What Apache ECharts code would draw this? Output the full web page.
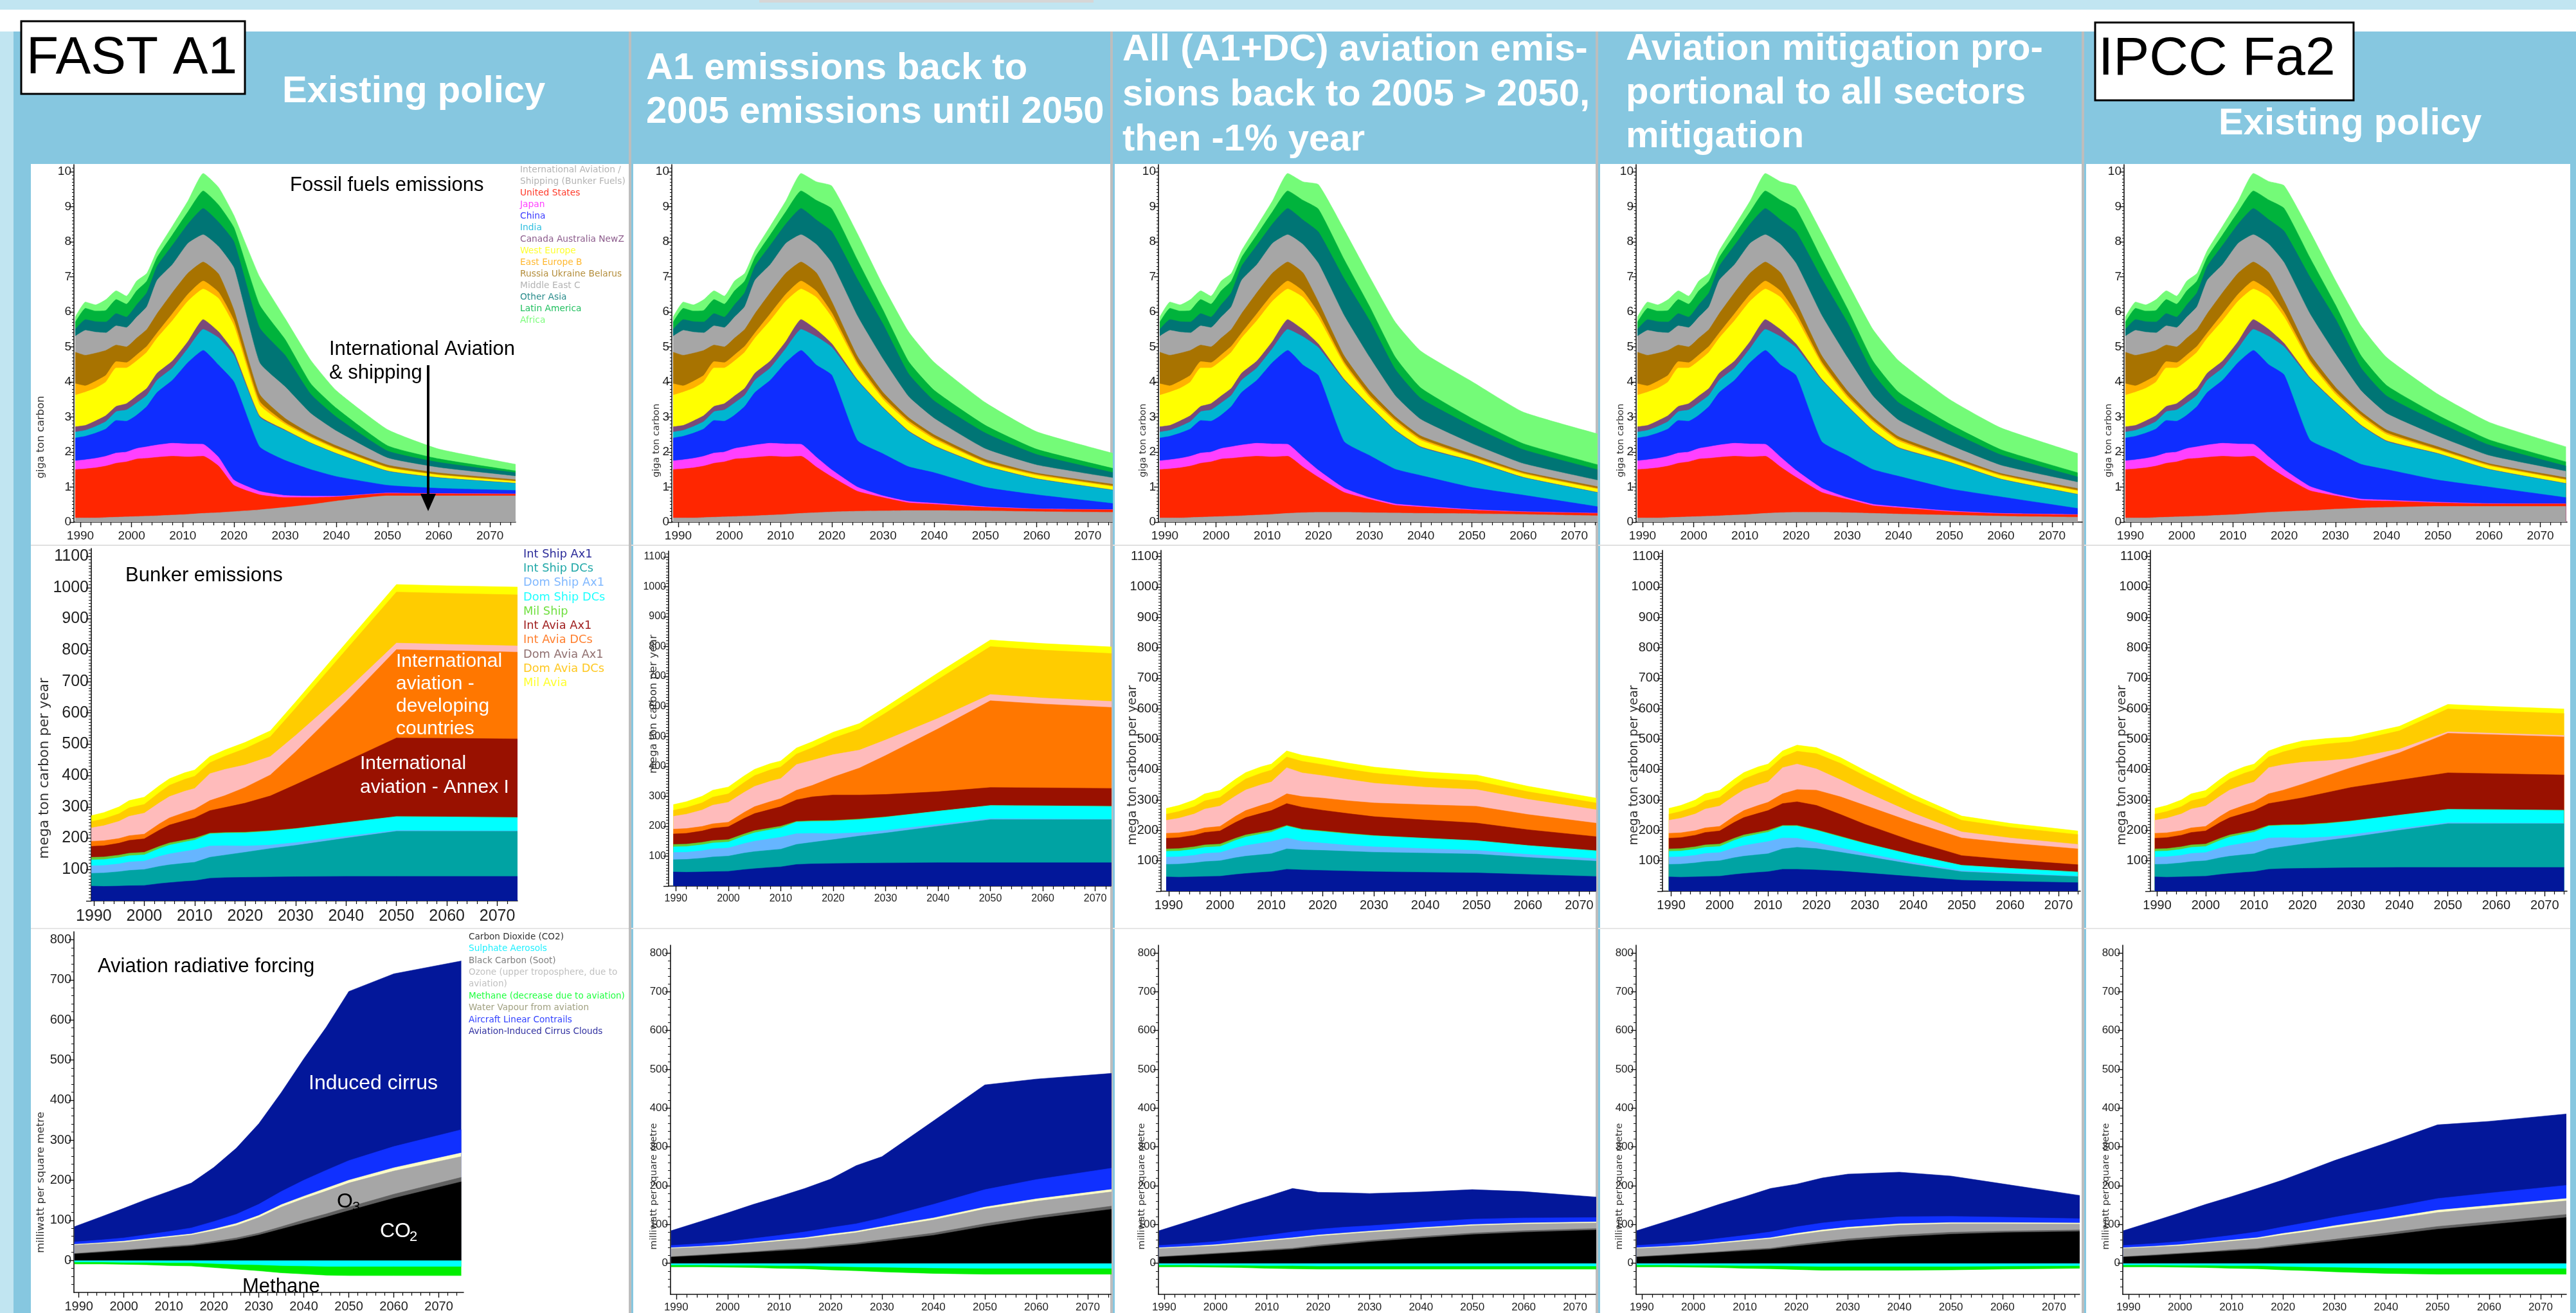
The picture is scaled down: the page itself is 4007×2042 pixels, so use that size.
<!DOCTYPE html>
<html><head><meta charset="utf-8"><title>FAST A1 aviation scenarios</title>
<script src="https://cdn.jsdelivr.net/npm/echarts@6.0.0/dist/echarts.min.js"></script>
<style>
html,body{margin:0;padding:0;width:4007px;height:2042px;overflow:hidden;background:#86c7e0;}
.bg{position:absolute;}
#chart{position:absolute;left:0;top:0;width:4007px;height:2042px;}
</style></head><body>
<div class="bg" style="left:0;top:0;width:4007px;height:15px;background:#c1e5f1"></div>
<div class="bg" style="left:1181px;top:0;width:520px;height:4px;background:#d6d6d6"></div>
<div class="bg" style="left:0;top:15px;width:4007px;height:34px;background:#fff"></div>
<div class="bg" style="left:0;top:49px;width:21px;height:1993px;background:#c1e5f1"></div>
<div class="bg" style="left:48px;top:255px;width:930px;height:1787px;background:#fff"></div>
<div class="bg" style="left:985px;top:255px;width:742px;height:1787px;background:#fff"></div>
<div class="bg" style="left:1734px;top:255px;width:748px;height:1787px;background:#fff"></div>
<div class="bg" style="left:2489px;top:255px;width:749px;height:1787px;background:#fff"></div>
<div class="bg" style="left:3245px;top:255px;width:753px;height:1787px;background:#fff"></div>
<div class="bg" style="left:48px;top:847px;width:3950px;height:2px;background:#e0e0e0"></div>
<div class="bg" style="left:48px;top:1443px;width:3950px;height:2px;background:#e6e6e6"></div>
<div class="bg" style="left:978px;top:49px;width:4px;height:1993px;background:#bdbdbd"></div>
<div class="bg" style="left:1727px;top:49px;width:4px;height:1993px;background:#bdbdbd"></div>
<div class="bg" style="left:2482px;top:49px;width:4px;height:1993px;background:#bdbdbd"></div>
<div class="bg" style="left:3238px;top:49px;width:4px;height:1993px;background:#bdbdbd"></div>
<div id="chart"></div>
<script>
// ---------- tick labels ----------
const X_TICKS = [1990, 2000, 2010, 2020, 2030, 2040, 2050, 2060, 2070];
const FF_Y_TICKS = [0, 1, 2, 3, 4, 5, 6, 7, 8, 9, 10];
const BK_Y_TICKS = [0, 100, 200, 300, 400, 500, 600, 700, 800, 900, 1000, 1100];
const BK_Y_LABELS = [100, 200, 300, 400, 500, 600, 700, 800, 900, 1000, 1100];
const RF_Y_TICKS = [0, 100, 200, 300, 400, 500, 600, 700, 800];

// ---------- column headers ----------
const HEAD_1 = 'Existing policy';
const HEAD_2 = ['A1 emissions back to', '2005 emissions until 2050'];
const HEAD_3 = ['All (A1+DC) aviation emis-', 'sions back to 2005 > 2050,', 'then -1% year'];
const HEAD_4 = ['Aviation mitigation pro-', 'portional to all sectors', 'mitigation'];
const HEAD_5 = 'Existing policy';

// ---------- fossil fuel emissions (giga ton carbon), layers bottom -> top ----------
const FF_NAMES = ['International Aviation /\nShipping (Bunker Fuels)', 'United States', 'Japan', 'China', 'India',
  'Canada Australia NewZ', 'West Europe', 'East Europe B', 'Russia Ukraine Belarus', 'Middle East C',
  'Other Asia', 'Latin America', 'Africa'];
const FF_COLORS = ['#a6a6a6', '#ff2600', '#ff40ff', '#0f2dff', '#00b5d0', '#7a4a7a', '#ffff00', '#ffb200',
  '#a87300', '#a6a6a6', '#007575', '#00b33c', '#74fb78'];
const FF_LEGEND_COLORS = ['#b4b4b4', '#ff3a2a', '#ff40ff', '#3c3cff', '#30bfe0', '#8c5c8c', '#ffff30', '#ffb830',
  '#b48e3c', '#b4b4b4', '#2a8c8c', '#22c060', '#7cfc7c'];
const FF_YEARS_H = [1989, 1991, 1993, 1995, 1997, 1999, 2001, 2003, 2005, 2008, 2011, 2014];
const FF_YEARS_P = [2017, 2020, 2025, 2030, 2035, 2040, 2050, 2060, 2075];
const FF_HIST = [
  [0.12, 0.12, 0.12, 0.13, 0.14, 0.15, 0.16, 0.17, 0.18, 0.20, 0.22, 0.25],
  [1.38, 1.40, 1.43, 1.47, 1.54, 1.57, 1.64, 1.65, 1.67, 1.68, 1.64, 1.63],
  [0.25, 0.26, 0.27, 0.28, 0.29, 0.28, 0.30, 0.33, 0.35, 0.37, 0.37, 0.34],
  [0.65, 0.67, 0.72, 0.78, 0.93, 0.88, 0.95, 1.15, 1.50, 1.80, 2.32, 2.68],
  [0.17, 0.17, 0.19, 0.21, 0.25, 0.32, 0.35, 0.32, 0.35, 0.35, 0.40, 0.60],
  [0.15, 0.14, 0.16, 0.17, 0.15, 0.18, 0.20, 0.20, 0.20, 0.20, 0.20, 0.28],
  [0.90, 0.95, 0.93, 0.96, 1.10, 1.02, 1.00, 1.03, 1.00, 1.15, 1.15, 0.87],
  [0.33, 0.18, 0.20, 0.19, 0.18, 0.15, 0.17, 0.17, 0.15, 0.20, 0.20, 0.23],
  [0.90, 0.87, 0.80, 0.71, 0.47, 0.45, 0.48, 0.48, 0.55, 0.60, 0.60, 0.54],
  [0.45, 0.71, 0.60, 0.50, 0.55, 0.55, 0.60, 0.65, 0.95, 0.80, 0.85, 0.78],
  [0.20, 0.31, 0.30, 0.31, 0.35, 0.30, 0.35, 0.40, 0.40, 0.55, 0.55, 0.75],
  [0.20, 0.32, 0.30, 0.33, 0.40, 0.37, 0.40, 0.33, 0.25, 0.30, 0.35, 0.50],
  [0.15, 0.18, 0.18, 0.31, 0.25, 0.23, 0.28, 0.22, 0.20, 0.25, 0.31, 0.50]];
const FF_C1 = [
  [0.27, 0.30, 0.35, 0.42, 0.50, 0.60, 0.75, 0.75, 0.75],
  [1.33, 0.75, 0.43, 0.28, 0.20, 0.12, 0.07, 0.06, 0.05],
  [0.25, 0.15, 0.10, 0.06, 0.04, 0.02, 0.01, 0.005, 0.005],
  [2.63, 2.80, 1.27, 1.00, 0.76, 0.56, 0.22, 0.15, 0.10],
  [0.78, 0.76, 0.85, 0.85, 0.75, 0.65, 0.40, 0.30, 0.20],
  [0.17, 0.09, 0.03, 0.02, 0.01, 0.01, 0.01, 0.005, 0.005],
  [0.95, 0.75, 0.32, 0.16, 0.14, 0.12, 0.09, 0.07, 0.05],
  [0.18, 0.15, 0.10, 0.05, 0.04, 0.03, 0.02, 0.015, 0.01],
  [0.52, 0.30, 0.20, 0.12, 0.08, 0.07, 0.06, 0.05, 0.04],
  [0.78, 1.20, 0.90, 0.90, 0.58, 0.42, 0.20, 0.15, 0.10],
  [0.70, 0.75, 1.00, 0.90, 0.55, 0.40, 0.20, 0.15, 0.10],
  [0.49, 0.40, 0.65, 0.45, 0.30, 0.25, 0.15, 0.10, 0.05],
  [0.50, 0.35, 0.80, 0.60, 0.67, 0.50, 0.46, 0.28, 0.19]];
const FF_C2 = [
  [0.27, 0.29, 0.31, 0.32, 0.33, 0.33, 0.32, 0.30, 0.28],
  [1.30, 1.00, 0.57, 0.38, 0.22, 0.18, 0.10, 0.07, 0.07],
  [0.28, 0.20, 0.12, 0.05, 0.04, 0.03, 0.02, 0.01, 0.005],
  [2.63, 2.70, 1.33, 1.20, 0.99, 0.87, 0.55, 0.40, 0.175],
  [0.81, 0.80, 1.70, 1.30, 1.00, 0.75, 0.60, 0.45, 0.38],
  [0.20, 0.10, 0.03, 0.02, 0.02, 0.02, 0.01, 0.01, 0.005],
  [0.92, 0.75, 0.42, 0.23, 0.23, 0.18, 0.09, 0.09, 0.095],
  [0.18, 0.13, 0.07, 0.07, 0.06, 0.05, 0.03, 0.03, 0.02],
  [0.52, 0.32, 0.18, 0.13, 0.09, 0.08, 0.07, 0.04, 0.05],
  [0.81, 1.10, 1.15, 0.95, 0.60, 0.47, 0.30, 0.23, 0.18],
  [0.70, 0.90, 1.05, 1.00, 0.65, 0.50, 0.45, 0.30, 0.15],
  [0.56, 0.65, 0.55, 0.40, 0.35, 0.30, 0.22, 0.15, 0.12],
  [0.53, 0.65, 0.75, 0.70, 0.85, 0.80, 0.65, 0.50, 0.43]];
const FF_C3 = [
  [0.27, 0.28, 0.28, 0.27, 0.26, 0.25, 0.24, 0.22, 0.18],
  [1.30, 1.00, 0.57, 0.38, 0.22, 0.18, 0.10, 0.07, 0.07],
  [0.28, 0.20, 0.12, 0.05, 0.04, 0.03, 0.02, 0.01, 0.005],
  [2.63, 2.70, 1.33, 1.20, 0.99, 0.87, 0.63, 0.47, 0.175],
  [0.81, 0.80, 1.75, 1.40, 1.10, 0.80, 0.75, 0.50, 0.40],
  [0.20, 0.10, 0.03, 0.02, 0.02, 0.02, 0.01, 0.01, 0.005],
  [0.92, 0.75, 0.42, 0.23, 0.23, 0.18, 0.09, 0.09, 0.095],
  [0.18, 0.13, 0.07, 0.07, 0.06, 0.05, 0.03, 0.03, 0.02],
  [0.52, 0.32, 0.18, 0.13, 0.09, 0.08, 0.07, 0.04, 0.05],
  [0.81, 1.10, 1.15, 0.95, 0.60, 0.47, 0.30, 0.23, 0.18],
  [0.70, 0.90, 1.05, 1.05, 0.75, 0.60, 0.50, 0.40, 0.30],
  [0.56, 0.65, 0.55, 0.40, 0.35, 0.30, 0.22, 0.17, 0.14],
  [0.53, 0.70, 0.85, 0.85, 1.00, 1.05, 1.05, 0.90, 0.88]];
const FF_C4 = [
  [0.27, 0.28, 0.28, 0.27, 0.25, 0.23, 0.20, 0.17, 0.14],
  [1.30, 1.00, 0.57, 0.38, 0.22, 0.18, 0.10, 0.07, 0.07],
  [0.28, 0.20, 0.12, 0.05, 0.04, 0.03, 0.02, 0.01, 0.005],
  [2.63, 2.70, 1.33, 1.20, 0.99, 0.87, 0.63, 0.47, 0.175],
  [0.81, 0.80, 1.75, 1.40, 1.10, 0.80, 0.75, 0.50, 0.40],
  [0.20, 0.10, 0.03, 0.02, 0.02, 0.02, 0.01, 0.01, 0.005],
  [0.92, 0.75, 0.42, 0.23, 0.23, 0.18, 0.09, 0.09, 0.095],
  [0.18, 0.13, 0.07, 0.07, 0.06, 0.05, 0.03, 0.03, 0.02],
  [0.52, 0.32, 0.18, 0.13, 0.09, 0.08, 0.07, 0.04, 0.05],
  [0.81, 1.10, 1.15, 0.95, 0.60, 0.47, 0.30, 0.23, 0.18],
  [0.70, 0.90, 1.05, 1.00, 0.65, 0.50, 0.40, 0.30, 0.15],
  [0.56, 0.65, 0.55, 0.40, 0.35, 0.30, 0.20, 0.15, 0.12],
  [0.53, 0.65, 0.75, 0.75, 0.90, 0.90, 0.70, 0.62, 0.55]];
const FF_C5 = [
  [0.28, 0.30, 0.33, 0.37, 0.40, 0.42, 0.45, 0.45, 0.45],
  [1.30, 1.00, 0.57, 0.38, 0.22, 0.18, 0.10, 0.07, 0.07],
  [0.28, 0.20, 0.12, 0.05, 0.04, 0.03, 0.02, 0.01, 0.005],
  [2.63, 2.70, 1.33, 1.20, 0.99, 0.87, 0.63, 0.47, 0.175],
  [0.81, 0.80, 1.75, 1.40, 1.10, 0.80, 0.75, 0.50, 0.40],
  [0.20, 0.10, 0.03, 0.02, 0.02, 0.02, 0.01, 0.01, 0.005],
  [0.92, 0.75, 0.42, 0.23, 0.23, 0.18, 0.09, 0.09, 0.095],
  [0.18, 0.13, 0.07, 0.07, 0.06, 0.05, 0.03, 0.03, 0.02],
  [0.52, 0.32, 0.18, 0.13, 0.09, 0.08, 0.07, 0.04, 0.05],
  [0.81, 1.10, 1.15, 0.95, 0.60, 0.47, 0.30, 0.23, 0.18],
  [0.70, 0.90, 1.05, 1.00, 0.65, 0.50, 0.40, 0.30, 0.15],
  [0.56, 0.65, 0.55, 0.40, 0.35, 0.30, 0.20, 0.15, 0.12],
  [0.53, 0.65, 0.75, 0.70, 0.85, 0.80, 0.60, 0.50, 0.43]];

// ---------- bunker emissions (mega ton carbon per year) ----------
const BK_NAMES = ['Int Ship Ax1', 'Int Ship DCs', 'Dom Ship Ax1', 'Dom Ship DCs', 'Mil Ship', 'Int Avia Ax1',
  'Int Avia DCs', 'Dom Avia Ax1', 'Dom Avia DCs', 'Mil Avia'];
const BK_COLORS = ['#02179a', '#00a3a3', '#66b5ff', '#00ffff', '#66cc33', '#991100', '#ff7700', '#ffbbbb', '#ffcc00', '#ffff00'];
const BK_LEGEND_COLORS = ['#2b2b99', '#20a8a8', '#80b8ff', '#20ffff', '#70e040', '#a02020', '#ff8030', '#907070', '#ffc820', '#ffff30'];
const BK_YEARS_H = [1989.5, 1992, 1995, 1997, 2000, 2003, 2005, 2008, 2010, 2013];
const BK_YEARS_P = [2016, 2020, 2025, 2030, 2040, 2050, 2060, 2074];
const BK_HIST = [
  [47, 46, 47, 48, 49, 55, 58, 62, 64, 72],
  [41, 43, 46, 49, 51, 55, 57, 58, 59, 67],
  [24, 24, 25, 27, 27, 32, 35, 38, 40, 36],
  [19, 19, 20, 20, 20, 25, 28, 30, 31, 39],
  [8, 8, 8, 8, 8, 7, 7, 6, 6, 2],
  [35, 36, 38, 41, 43, 52, 57, 62, 65, 72],
  [16, 16, 15, 15, 15, 20, 23, 26, 27, 32],
  [43, 48, 55, 62, 67, 67, 68, 68, 67, 86],
  [20, 22, 24, 27, 28, 33, 36, 38, 39, 35],
  [19, 20, 22, 23, 23, 22, 21, 21, 20, 20]];
const BK_C1 = [
  [74, 75, 76, 77, 78, 78, 78, 78],
  [72, 80, 91, 100, 122, 144, 144, 144],
  [30, 20, 11, 9, 6, 3, 2, 1],
  [40, 42, 44, 44, 44, 44, 44, 43],
  [2, 2, 2, 1, 0, 0, 0, 0],
  [80, 93, 111, 140, 195, 251, 251, 251],
  [38, 50, 67, 105, 190, 282, 280, 277],
  [84, 72, 59, 52, 35, 21, 20, 20],
  [42, 52, 63, 87, 131, 163, 163, 163],
  [20, 20, 19, 20, 22, 24, 24, 25]];
const BK_C2 = [
  [74, 75, 76, 77, 78, 78, 78, 78],
  [72, 80, 91, 100, 122, 144, 144, 144],
  [30, 20, 11, 9, 6, 3, 2, 1],
  [40, 42, 44, 44, 44, 44, 44, 43],
  [2, 2, 2, 1, 0, 0, 0, 0],
  [80, 85, 80, 75, 65, 60, 60, 60],
  [38, 60, 90, 130, 210, 290, 280, 270],
  [84, 75, 60, 52, 35, 21, 20, 20],
  [42, 55, 70, 90, 130, 160, 160, 160],
  [20, 20, 19, 20, 22, 22, 22, 22]];
const BK_C3 = [
  [70, 68, 66, 64, 62, 60, 55, 48],
  [66, 66, 65, 64, 63, 62, 56, 50],
  [28, 24, 20, 18, 15, 12, 10, 8],
  [38, 38, 37, 36, 34, 32, 29, 26],
  [2, 2, 2, 1, 0, 0, 0, 0],
  [72, 68, 65, 62, 60, 58, 52, 46],
  [35, 40, 42, 45, 50, 55, 50, 44],
  [78, 74, 70, 65, 58, 55, 50, 44],
  [38, 36, 34, 33, 30, 28, 25, 22],
  [20, 20, 20, 20, 20, 20, 18, 16]];
const BK_C4 = [
  [72, 70, 66, 60, 48, 36, 32, 28],
  [72, 70, 62, 55, 40, 28, 25, 20],
  [30, 20, 14, 10, 6, 3, 2, 1],
  [40, 40, 36, 32, 25, 18, 16, 14],
  [2, 2, 2, 1, 0, 0, 0, 0],
  [78, 80, 72, 62, 45, 32, 28, 24],
  [40, 50, 58, 62, 62, 58, 55, 52],
  [84, 70, 56, 45, 30, 20, 17, 15],
  [42, 50, 54, 52, 45, 38, 35, 32],
  [20, 20, 19, 18, 16, 14, 13, 12]];
const BK_C5 = [
  [74, 75, 76, 77, 78, 78, 78, 78],
  [72, 80, 91, 100, 122, 144, 144, 144],
  [30, 20, 11, 9, 6, 3, 2, 1],
  [40, 42, 44, 44, 44, 44, 44, 43],
  [2, 2, 2, 1, 0, 0, 0, 0],
  [78, 88, 100, 110, 115, 120, 118, 116],
  [36, 45, 55, 65, 90, 130, 128, 125],
  [84, 72, 50, 30, 12, 5, 5, 5],
  [42, 50, 55, 55, 60, 75, 73, 72],
  [20, 20, 18, 16, 15, 15, 15, 15]];

// ---------- aviation radiative forcing (milliwatt per square metre) ----------
const RF_NAMES = ['Carbon Dioxide (CO2)', 'Sulphate Aerosols', 'Black Carbon (Soot)',
  'Ozone (upper troposphere, due to\naviation)', 'Methane (decrease due to aviation)', 'Water Vapour from aviation',
  'Aircraft Linear Contrails', 'Aviation-Induced Cirrus Clouds'];
const RF_COLORS = ['#000000', '#00ffff', '#606060', '#a6a6a6', '#00ee00', '#ffffc8', '#1030ff', '#03179a'];
const RF_LEGEND_COLORS = ['#333333', '#20f0ff', '#808080', '#c0c0c0', '#20ff40', '#a0a080', '#3040ff', '#3030a0'];
const RF_YEARS_H = [1989, 1995, 2000, 2005, 2010, 2015];
const RF_YEARS_P1 = [2020, 2025, 2030, 2035, 2040, 2045, 2050, 2060, 2075];
const RF_YEARS_P = [2020, 2025, 2030, 2040, 2050, 2060, 2075];
const RF_HIST = [
  [16, 20, 24, 28, 32, 36],
  [-4, -4, -5, -5, -6, -6],
  [1, 2, 2, 2, 3, 3],
  [21, 20, 19, 21, 22, 24],
  [-5, -5, -5, -6, -7, -8],
  [2, 2, 3, 3, 3, 3],
  [6, 7, 8, 10, 12, 15],
  [38, 58, 74, 88, 100, 112]];
const RF_C1 = [
  [43, 51, 63, 78, 93, 108, 124, 155, 196],
  [-8, -10, -11, -13, -14, -15, -15, -15, -15],
  [4, 5, 5, 6, 8, 8, 9, 10, 11],
  [27, 31, 39, 49, 53, 57, 60, 58, 52],
  [-10, -12, -15, -18, -20, -22, -23, -23, -23],
  [4, 5, 5, 6, 6, 7, 7, 8, 9],
  [19, 23, 28, 33, 40, 45, 49, 53, 58],
  [135, 165, 201, 247, 303, 357, 422, 431, 421]];
const RF_C2 = [
  [42, 48, 56, 72, 95, 115, 140],
  [-8, -9, -10, -12, -13, -13, -13],
  [4, 4, 5, 6, 7, 7, 8],
  [25, 27, 30, 34, 38, 38, 37],
  [-9, -10, -12, -14, -15, -15, -15],
  [4, 4, 4, 5, 5, 6, 6],
  [17, 19, 22, 35, 45, 50, 55],
  [125, 150, 158, 215, 270, 259, 244]];
const RF_C3 = [
  [43, 49, 55, 65, 74, 80, 86],
  [-7, -7, -7, -7, -7, -7, -7],
  [4, 4, 4, 4, 4, 4, 4],
  [23, 22, 21, 20, 19, 17, 14],
  [-8, -8, -8, -8, -8, -8, -8],
  [3, 3, 3, 3, 3, 3, 3],
  [15, 15, 14, 14, 14, 13, 11],
  [95, 89, 83, 78, 76, 68, 52]];
const RF_C4 = [
  [44, 51, 58, 68, 75, 79, 82],
  [-7, -8, -8, -8, -8, -7, -6],
  [4, 5, 5, 5, 5, 4, 4],
  [25, 26, 26, 25, 22, 19, 15],
  [-9, -10, -10, -10, -9, -8, -7],
  [4, 4, 4, 4, 3, 3, 3],
  [17, 18, 18, 18, 16, 14, 11],
  [110, 116, 119, 115, 104, 86, 60]];
const RF_C5 = [
  [43, 50, 57, 72, 88, 100, 118],
  [-8, -9, -10, -12, -13, -13, -13],
  [4, 4, 5, 6, 7, 7, 8],
  [26, 28, 30, 33, 36, 36, 35],
  [-9, -10, -12, -14, -15, -15, -15],
  [4, 4, 5, 5, 6, 6, 6],
  [17, 20, 22, 26, 30, 32, 34],
  [121, 134, 146, 168, 190, 185, 184]];

// ---------- layout (pixel geometry of each panel) ----------
const FF_GEO = [
  {left: 115, top: 256, width: 687, height: 556, xmin: 1988.75, xmax: 2075},
  {left: 1045, top: 256, width: 685, height: 556, xmin: 1988.75, xmax: 2074.75},
  {left: 1802, top: 256, width: 682, height: 556, xmin: 1988.75, xmax: 2074.4},
  {left: 2545, top: 256, width: 694, height: 556, xmin: 1988.75, xmax: 2075.9},
  {left: 3304, top: 256, width: 689, height: 556, xmin: 1988.75, xmax: 2075.2}];
const BK_GEO = [
  {left: 142, top: 853, width: 663, height: 548, xmin: 1989.5, xmax: 2074, ymax: 1125, fs: 25},
  {left: 1040, top: 857, width: 688, height: 521, xmin: 1988.6, xmax: 2073, ymax: 1119, fs: 16},
  {left: 1806, top: 856, width: 676, height: 530, xmin: 1988.5, xmax: 2073.2, ymax: 1120, fs: 20},
  {left: 2586, top: 856, width: 650, height: 530, xmin: 1988.2, xmax: 2074.5, ymax: 1120, fs: 20},
  {left: 3345, top: 856, width: 648, height: 530, xmin: 1988.6, xmax: 2074.6, ymax: 1120, fs: 20}];
const RF_GEO = [
  {left: 115, top: 1449, width: 606, height: 572, xmin: 1988.9, xmax: 2075.5, fs: 20},
  {left: 1043, top: 1470, width: 685, height: 549, xmin: 1988.9, xmax: 2074.5, fs: 17},
  {left: 1802, top: 1470, width: 680, height: 549, xmin: 1988.9, xmax: 2074, fs: 17},
  {left: 2545, top: 1470, width: 690, height: 549, xmin: 1988.9, xmax: 2075, fs: 17},
  {left: 3302, top: 1470, width: 690, height: 549, xmin: 1988.9, xmax: 2075, fs: 17}];

const grids = [], xAxis = [], yAxis = [], series = [];
const AX = '#111', LBL = '#222', NUMF = 'Liberation Sans, Arial, sans-serif';

function xLabel(v) {
  const r = Math.round(v);
  return (Math.abs(v - r) < 1e-6 && r % 10 === 0) ? String(r) : '';
}

function addPanel(kind, g, names, colors, yearsH, hist, yearsP, proj) {
  const i = grids.length;
  grids.push({left: g.left, top: g.top, width: g.width, height: g.height, containLabel: false});
  const fs = g.fs || 19;
  xAxis.push({
    type: 'value', gridIndex: i, min: g.xmin, max: g.xmax, splitNumber: 8, minInterval: 10, maxInterval: 10,
    axisLine: {onZero: false, lineStyle: {color: AX, width: 1.6}},
    axisTick: {show: true, length: 8, customValues: X_TICKS, lineStyle: {color: AX, width: 1.4}},
    minorTick: {show: true, splitNumber: 5, length: 5, lineStyle: {color: AX, width: 1.2}},
    splitLine: {show: false}, minorSplitLine: {show: false},
    axisLabel: {customValues: X_TICKS, formatter: xLabel, fontSize: fs, color: LBL, fontFamily: NUMF, margin: 12}
  });
  let y;
  if (kind === 'ff') {
    y = {min: 0, max: 10.2, interval: 1,
      axisTick: {show: true, length: 7, customValues: FF_Y_TICKS, lineStyle: {color: AX, width: 1.4}},
      minorTick: {show: true, splitNumber: 10, length: 3, lineStyle: {color: AX, width: 1}},
      axisLabel: {customValues: FF_Y_TICKS, formatter: v => Number.isInteger(v) ? String(v) : '', fontSize: 19, color: LBL, fontFamily: NUMF, margin: 4}};
  } else if (kind === 'bk') {
    y = {min: 0, max: g.ymax, interval: 100,
      axisTick: {show: true, length: 8, customValues: BK_Y_TICKS, lineStyle: {color: AX, width: 1.4}},
      minorTick: {show: true, splitNumber: 10, length: 4, lineStyle: {color: AX, width: 1}},
      axisLabel: {customValues: BK_Y_LABELS, formatter: v => (v > 0 && v % 100 === 0) ? String(v) : '', fontSize: fs, color: LBL, fontFamily: NUMF, margin: 4}};
  } else {
    y = {min: -80, max: 820, splitNumber: 9, minInterval: 100, maxInterval: 100,
      axisTick: {show: true, length: 8, customValues: RF_Y_TICKS, lineStyle: {color: AX, width: 1.4}},
      minorTick: {show: true, splitNumber: 5, length: 4, lineStyle: {color: AX, width: 1}},
      axisLabel: {customValues: RF_Y_TICKS, formatter: v => (Math.abs(v % 100) < 1e-6) ? String(Math.round(v)) : '', fontSize: fs, color: LBL, fontFamily: NUMF, margin: 4}};
  }
  yAxis.push(Object.assign({type: 'value', gridIndex: i, splitLine: {show: false}, minorSplitLine: {show: false},
    axisLine: {show: true, onZero: false, lineStyle: {color: AX, width: 1.6}}}, y));
  // cumulative (same-sign) layer tops; upper layers drawn first so lower layers cover them
  const years = yearsH.concat(yearsP);
  const vals = names.map((n, s) => hist[s].concat(proj[s]));
  const posSum = years.map(() => 0), negSum = years.map(() => 0);
  const tops = vals.map(v => v.map((val, k) => {
    if (val < 0) { negSum[k] += val; return negSum[k]; }
    posSum[k] += val; return posSum[k];
  }));
  for (let s = names.length - 1; s >= 0; s--) {
    series.push({
      type: 'line', name: names[s], xAxisIndex: i, yAxisIndex: i,
      data: years.map((yr, k) => [yr, tops[s][k]]),
      symbol: 'none', showSymbol: false, smooth: kind === 'ff' ? 0.15 : false,
      lineStyle: {width: 0.6, color: colors[s]}, areaStyle: {color: colors[s], opacity: 1, origin: 0},
      silent: true, animation: false, clip: true
    });
  }
}

const FF_COLS = [FF_C1, FF_C2, FF_C3, FF_C4, FF_C5];
const BK_COLS = [BK_C1, BK_C2, BK_C3, BK_C4, BK_C5];
const RF_COLS = [RF_C1, RF_C2, RF_C3, RF_C4, RF_C5];
for (let c = 0; c < 5; c++) {
  addPanel('ff', FF_GEO[c], FF_NAMES, FF_COLORS, FF_YEARS_H, FF_HIST, FF_YEARS_P, FF_COLS[c]);
  addPanel('bk', BK_GEO[c], BK_NAMES, BK_COLORS, BK_YEARS_H, BK_HIST, BK_YEARS_P, BK_COLS[c]);
  addPanel('rf', RF_GEO[c], RF_NAMES, RF_COLORS, RF_YEARS_H, RF_HIST, c === 0 ? RF_YEARS_P1 : RF_YEARS_P, RF_COLS[c]);
}

// ---------- graphic texts ----------
const G = [];
const HF = 'Liberation Sans, Arial, Helvetica, sans-serif';
const DF = 'DejaVu Sans, Verdana, sans-serif';
function T(x, y, text, size, fill, opt) {
  opt = opt || {};
  G.push({type: 'text', x: x, y: y, z: 100, rotation: opt.rot || 0,
    style: {text: text, fill: fill, fontSize: size, fontFamily: opt.ff || HF, fontWeight: opt.bold ? 'bold' : 'normal',
      align: opt.align || 'left', textAlign: opt.align || 'left', verticalAlign: opt.va || 'middle', textVerticalAlign: opt.va || 'middle',
      lineHeight: opt.lh || Math.round(size * 1.2)}});
}
G.push({type: 'rect', z: 90, shape: {x: 33, y: 33, width: 348, height: 113}, style: {fill: '#fff', stroke: '#000', lineWidth: 3}});
T(41, 91, 'FAST A1', 82, '#000');
G.push({type: 'rect', z: 90, shape: {x: 3259, y: 35, width: 402, height: 121}, style: {fill: '#fff', stroke: '#000', lineWidth: 3}});
T(3264, 93, 'IPCC Fa2', 84, '#000');
T(439, 143, HEAD_1, 58, '#fff', {bold: true});
HEAD_2.forEach((s, k) => T(1005, 107 + 68 * k, s, 58, '#fff', {bold: true}));
HEAD_3.forEach((s, k) => T(1746, 78 + 70 * k, s, 58, '#fff', {bold: true}));
HEAD_4.forEach((s, k) => T(2529, 77 + 68 * k, s, 58, '#fff', {bold: true}));
T(3451, 193, HEAD_5, 58, '#fff', {bold: true});

// legends (column 1)
let ly = 255;
FF_NAMES.forEach((n, s) => { T(809, ly, n, 13.8, FF_LEGEND_COLORS[s], {ff: DF, va: 'top', lh: 18}); ly += 18 * n.split('\n').length; });
BK_NAMES.forEach((n, s) => T(814, 862 + 22.3 * s, n, 17.8, BK_LEGEND_COLORS[s], {ff: DF}));
ly = 1448;
RF_NAMES.forEach((n, s) => { T(729, ly, n, 13.6, RF_LEGEND_COLORS[s], {ff: DF, va: 'top', lh: 18.4}); ly += 18.4 * n.split('\n').length; });

// annotations (column 1)
T(451, 288, 'Fossil fuels emissions', 31, '#000');
T(512, 543, 'International Aviation', 31, '#000');
T(512, 580, '& shipping', 31, '#000');
G.push({type: 'line', z: 100, shape: {x1: 666, y1: 568, x2: 666, y2: 775}, style: {stroke: '#000', lineWidth: 4}});
G.push({type: 'polygon', z: 100, shape: {points: [[654, 768], [678, 768], [666, 795]]}, style: {fill: '#000'}});
T(195, 895, 'Bunker emissions', 31, '#000');
['International', 'aviation -', 'developing', 'countries'].forEach((s, k) => T(616, 1029 + 35 * k, s, 30, '#fff'));
['International', 'aviation - Annex I'].forEach((s, k) => T(560, 1188 + 37 * k, s, 30, '#fff'));
T(152, 1503, 'Aviation radiative forcing', 31, '#000');
T(480, 1685, 'Induced cirrus', 32, '#fff');
T(524, 1869, 'O', 32, '#000');
T(548, 1878, '3', 22, '#000');
T(591, 1915, 'CO', 32, '#fff');
T(637, 1924, '2', 22, '#fff');
T(377, 2001, 'Methane', 31, '#000');

// axis titles
const FF_TITLE = 'giga ton carbon', BK_TITLE = 'mega ton carbon per year', RF_TITLE = 'milliwatt per square metre';
FF_GEO.forEach((g, c) => T(c === 0 ? 64 : g.left - 24, c === 0 ? 680 : 685, FF_TITLE, c === 0 ? 16.3 : 14.5, '#333', {ff: DF, align: 'center', rot: Math.PI / 2}));
BK_GEO.forEach((g, c) => T(c === 0 ? 69 : (c === 1 ? 1017 : g.left - 44), c === 0 ? 1195 : (c === 1 ? 1095 : 1190), BK_TITLE,
  c === 0 ? 21.5 : (c === 1 ? 16.5 : 19), '#333', {ff: DF, align: 'center', rot: Math.PI / 2}));
RF_GEO.forEach((g, c) => T(c === 0 ? 64 : g.left - 26, c === 0 ? 1839 : 1845, RF_TITLE, c === 0 ? 16.5 : 14.8, '#333', {ff: DF, align: 'center', rot: Math.PI / 2}));

const chart = echarts.init(document.getElementById('chart'), null, {renderer: 'canvas', width: 4007, height: 2042});
chart.setOption({animation: false, backgroundColor: 'transparent', grid: grids, xAxis: xAxis, yAxis: yAxis, series: series, graphic: {elements: G}});
</script></body></html>
